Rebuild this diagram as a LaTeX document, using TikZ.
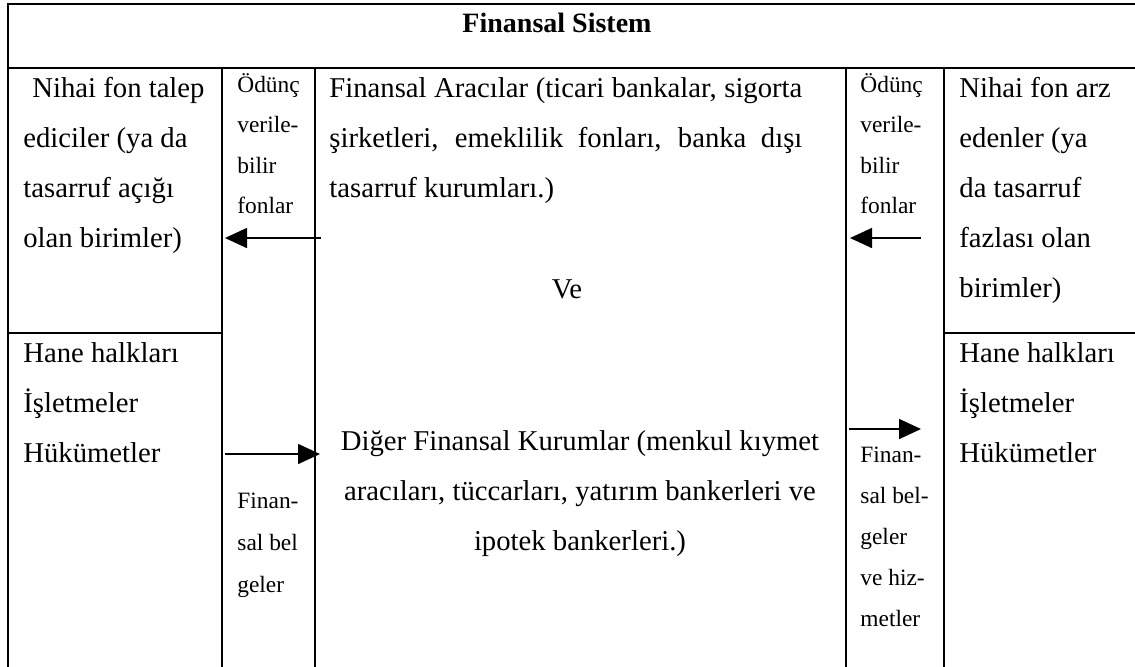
\documentclass[tikz,border=0pt]{standalone}
\usepackage{fontspec}
\setmainfont{Liberation Serif}
\usetikzlibrary{arrows.meta}
\begin{document}
\begin{tikzpicture}[x=0.5pt,y=-0.5pt,
  gridline/.style={line width=1pt,line cap=rect},
  flow/.style={line width=0.8pt,-{Triangle[length=11pt,width=10pt]}},
  bodytxt/.style={inner sep=0pt,anchor=base west,font=\fontsize{14.35}{25}\selectfont},
  smalltxt/.style={inner sep=0pt,anchor=base west,font=\fontsize{11.7}{20.25}\selectfont},
  smalltxtb/.style={inner sep=0pt,anchor=base west,font=\fontsize{11.7}{21}\selectfont},
  smalltxtc/.style={inner sep=0pt,anchor=base west,font=\fontsize{11.7}{20.6}\selectfont},
  ]
\useasboundingbox (0,0) rectangle (1135,666);
% grid
\draw[gridline] (1135,4) -- (8,4) -- (8,666);
\draw[gridline] (8,68) -- (1135,68);
\draw[gridline] (222,68) -- (222,666);
\draw[gridline] (315,68) -- (315,666);
\draw[gridline] (846,68) -- (846,666);
\draw[gridline] (944,68) -- (944,666);
\draw[gridline] (8,333) -- (222,333);
\draw[gridline] (944,333) -- (1135,333);
% title
\node[inner sep=0pt,anchor=base,font=\fontsize{14}{25}\selectfont\bfseries] (title) at (557,32) {Finansal Sistem};
% left column
\node[bodytxt] (ltop) at (23,97) {\begin{tabular}[t]{@{}l@{}}\hspace*{4.5pt}Nihai fon talep\\ediciler (ya da\\tasarruf açığı\\olan birimler)\end{tabular}};
\node[bodytxt] (lbot) at (23,362) {\begin{tabular}[t]{@{}l@{}}Hane halkları\\İşletmeler\\Hükümetler\end{tabular}};
% column 2
\node[smalltxt] (c2top) at (237,92) {\begin{tabular}[t]{@{}l@{}}Ödünç\\verile-\\bilir\\fonlar\end{tabular}};
\node[smalltxtb] (c2bot) at (237,508) {\begin{tabular}[t]{@{}l@{}}Finan-\\sal bel\\geler\end{tabular}};
% middle
\node[bodytxt] (mtop) at (329,97) {\begin{tabular}[t]{@{}l@{}}\makebox[236.5pt][s]{Finansal Aracılar (ticari bankalar, sigorta}\\\makebox[236.5pt][s]{şirketleri, emeklilik fonları, banka dışı}\\tasarruf kurumları.)\end{tabular}};
\node[bodytxt,anchor=base] (ve) at (567,298) {Ve};
\node[bodytxt,anchor=base] (mbot) at (580,450) {\begin{tabular}[t]{@{}c@{}}Diğer Finansal Kurumlar (menkul kıymet\\aracıları, tüccarları, yatırım bankerleri ve\\ipotek bankerleri.)\end{tabular}};
% column 4
\node[smalltxt] (c4top) at (860,92) {\begin{tabular}[t]{@{}l@{}}Ödünç\\verile-\\bilir\\fonlar\end{tabular}};
\node[smalltxtc] (c4bot) at (860,462) {\begin{tabular}[t]{@{}l@{}}Finan-\\sal bel-\\geler\\ve hiz-\\metler\end{tabular}};
% right column
\node[bodytxt] (rtop) at (959,97) {\begin{tabular}[t]{@{}l@{}}Nihai fon arz\\edenler (ya\\da tasarruf\\fazlası olan\\birimler)\end{tabular}};
\node[bodytxt] (rbot) at (959,362) {\begin{tabular}[t]{@{}l@{}}Hane halkları\\İşletmeler\\Hükümetler\end{tabular}};
% arrows
\coordinate (a1s) at (321,238); \coordinate (a1e) at (225,238);
\coordinate (a2s) at (921,238); \coordinate (a2e) at (850,238);
\coordinate (a3s) at (225,454); \coordinate (a3e) at (320,454);
\coordinate (a4s) at (849,429); \coordinate (a4e) at (921,429);
\draw[flow] (a1s) -- (a1e);
\draw[flow] (a2s) -- (a2e);
\draw[flow] (a3s) -- (a3e);
\draw[flow] (a4s) -- (a4e);
\end{tikzpicture}
\end{document}
